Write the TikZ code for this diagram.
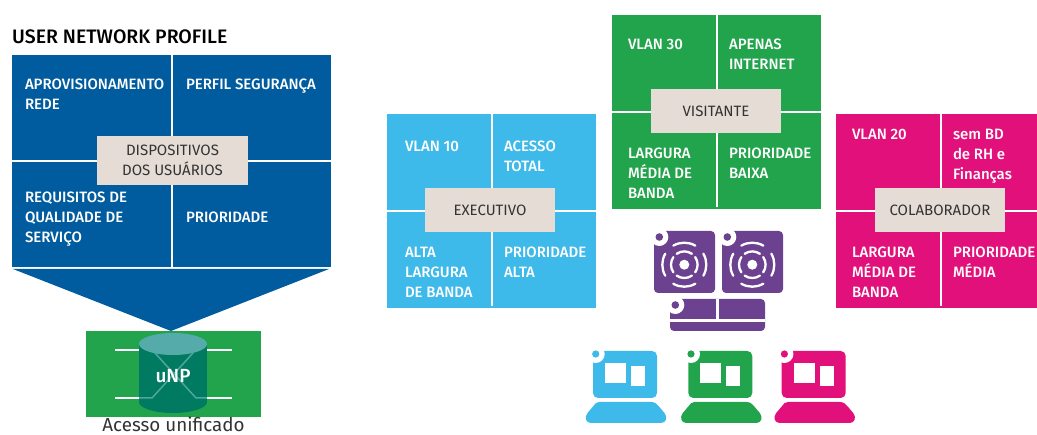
\documentclass[tikz,border=0pt]{standalone}
\usepackage{fontspec}
\setmainfont[BoldFont={Fira Sans Medium}]{Fira Sans}
\usetikzlibrary{calc,positioning}

\definecolor{netblue}{HTML}{005C9E}
\definecolor{execblue}{HTML}{3DB9EA}
\definecolor{guestgreen}{HTML}{22A44C}
\definecolor{colabpink}{HTML}{E2107A}
\definecolor{apviolet}{HTML}{6C4190}
\definecolor{labelbeige}{HTML}{E5DCD6}
\definecolor{cylbody}{HTML}{007A60}
\definecolor{cyltop}{HTML}{55AAAA}
\definecolor{cylcross}{HTML}{4FA6A0}

\begin{document}
\begin{tikzpicture}[x=1pt,y=-1pt]
    \tikzset{
        panel/.style={rectangle, anchor=north west, inner sep=0pt, outer sep=0pt},
        divider/.style={white, line width=2pt},
        rolebox/.style={rectangle, fill=labelbeige, inner sep=0pt, outer sep=0pt,
            minimum width=130pt, minimum height=44pt, text=black!80,
            align=center, font=\fontsize{15}{20}\selectfont},
        celltext/.style={anchor=base west, inner sep=0pt, outer sep=0pt, text=white,
            align=left, font=\fontsize{15}{20}\selectfont\bfseries},
        cylrule/.style={white, line width=1.5pt},
        cylcrossing/.style={cylcross, line width=1.5pt},
        radio/.pic={
            \fill[apviolet, rounded corners=4pt] (0,0) rectangle (61,62);
            \fill[white] (5.3,6) circle (9);
            \fill[apviolet] (5.3,6) circle (3.8);
            \fill[white] (30.3,33.7) circle (5);
            % Four short arcs on each ring
            \foreach \ang in {0,90,180,270} {
                \draw[white, line width=2.3pt, line cap=round]
                    ($(30.3,33.7)+(\ang-35:13.3)$) arc[start angle=\ang-35, end angle=\ang+35, radius=13.3];
                \draw[white, line width=2.3pt, line cap=round]
                    ($(30.3,33.7)+(\ang-30:22)$) arc[start angle=\ang-30, end angle=\ang+30, radius=22];
            }
        },
        terminal/.pic={
            \fill[pic actions, rounded corners=5pt] (0,0) rectangle (64,47);
            \fill[white] (2.7,3) circle (9);
            \fill[pic actions] (2.7,3) circle (3.6);
            \fill[white] (12,12) rectangle (33,32);
            \fill[white] (38,15) rectangle (52,35);
            \fill[pic actions] (6,51) -- (58,51) .. controls (62,51) and (64,53) .. (66,55.5)
                -- (71.5,62) .. controls (75,66.5) and (73,72) .. (68,72)
                -- (-2,72) .. controls (-7,72) and (-9,66.5) .. (-5.5,62)
                -- (0,55.5) .. controls (2,53) and (3,51) .. (6,51) -- cycle;
        }
    }
    \useasboundingbox (0,0) rectangle (1037,435);

    % User network profile
    \node[anchor=base west, inner sep=0pt, font=\fontsize{19.5}{20}\selectfont\bfseries] (title) at (12,44) {USER NETWORK PROFILE};
    \node[panel, fill=netblue, minimum width=319pt, minimum height=212.5pt] (profile) at (12,55) {};
    \draw[divider] (profile.north) -- (profile.south);
    \draw[divider] (profile.west) -- (profile.east);
    \node[rolebox, minimum width=151pt, minimum height=49pt] (devices) at (172.5,160.5) {DISPOSITIVOS\\DOS USUÁRIOS};
    \node[celltext] (provision) at (25,109.5) {APROVISIONAMENTO\\REDE};
    \node[celltext] (security) at (186,89.5) {PERFIL SEGURANÇA};
    \node[celltext] (quality) at (25,242.5) {REQUISITOS DE\\QUALIDADE DE\\SERVIÇO};
    \node[celltext] (priority) at (186,222.5) {PRIORIDADE};
    \fill[netblue] (13,269) -- (329,269) -- (171,331) -- cycle;

    % Unified access
    \node[panel, fill=guestgreen, minimum width=175pt, minimum height=86pt] (access) at (86,331) {};
    \draw[cylrule] (115,350) -- (232,350);
    \draw[cylrule] (115,398) -- (232,398);
    \fill[cylbody] (139,344) rectangle (207,402);
    \fill[cylbody] (173,402) ellipse [x radius=34, y radius=11];
    \draw[cylcrossing] (139,398) -- (152,398) -- (193,353);
    \draw[cylcrossing] (207,398) -- (196,398) -- (155,353);
    \fill[cyltop] (173,344) ellipse [x radius=34, y radius=11];
    \node[text=white, font=\fontsize{19}{20}\selectfont\bfseries] (unp) at (173,376) {uNP};
    \node[anchor=base, inner sep=0pt, text=black!80, font=\fontsize{18.8}{20}\selectfont] (caption) at (173.5,431.5) {Acesso unificado};

    % Executive
    \node[panel, fill=execblue, minimum width=209pt, minimum height=194pt] (exec) at (387,114) {};
    \draw[divider, shorten >=2pt] (exec.north) -- (exec.south);
    \draw[divider] (exec.west) -- (exec.east);
    \node[rolebox] (execrole) at (490,210) {EXECUTIVO};
    \node[celltext] (execvlan) at (405,151.5) {VLAN 10};
    \node[celltext] (execaccess) at (504,171.5) {ACESSO\\TOTAL};
    \node[celltext] (execband) at (405,297.5) {ALTA\\LARGURA\\DE BANDA};
    \node[celltext] (execprio) at (504,277.5) {PRIORIDADE\\ALTA};

    % Guest
    \node[panel, fill=guestgreen, minimum width=209pt, minimum height=194pt] (guest) at (612,15) {};
    \draw[divider, shorten >=2pt] (guest.north) -- (guest.south);
    \draw[divider] (guest.west) -- (guest.east);
    \node[rolebox] (guestrole) at (716,111) {VISITANTE};
    \node[celltext] (guestvlan) at (628,49.5) {VLAN 30};
    \node[celltext] (guestaccess) at (729,69.5) {APENAS\\INTERNET};
    \node[celltext] (guestband) at (628,198.5) {LARGURA\\MÉDIA DE\\BANDA};
    \node[celltext] (guestprio) at (729,178.5) {PRIORIDADE\\BAIXA};

    % Collaborator
    \node[panel, fill=colabpink, minimum width=201pt, minimum height=194pt] (colab) at (836,114) {};
    \coordinate (colabtop) at (941,114);
    \coordinate (colabfoot) at (941,306);
    \draw[divider] (colabtop) -- (colabfoot);
    \draw[divider] (colab.west) -- (colab.east);
    \node[rolebox] (colabrole) at (940,210) {COLABORADOR};
    \node[celltext] (colabvlan) at (852,139.5) {VLAN 20};
    \node[celltext] (colabaccess) at (953,179.5) {sem BD\\de RH e\\Finanças};
    \node[celltext] (colabband) at (852,297.5) {LARGURA\\MÉDIA DE\\BANDA};
    \node[celltext] (colabprio) at (953,277.5) {PRIORIDADE\\MÉDIA};

    % Access points and controller
    \pic at (654,231) {radio};
    \pic at (722,231) {radio};
    \fill[apviolet, rounded corners=4pt] (670,299) rectangle (765,331);
    \draw[divider, line width=2.5pt] (670,320.3) -- (765,320.3);
    \draw[divider, line width=2.5pt] (717.3,299) -- (717.3,320.3);
    \fill[white] (675.3,305) circle (9);
    \fill[apviolet] (675.3,305) circle (3.8);

    % Terminals
    \pic[fill=execblue] at (593,351) {terminal};
    \pic[fill=guestgreen] at (688.3,351) {terminal};
    \pic[fill=colabpink] at (781.7,351) {terminal};
\end{tikzpicture}
\end{document}
